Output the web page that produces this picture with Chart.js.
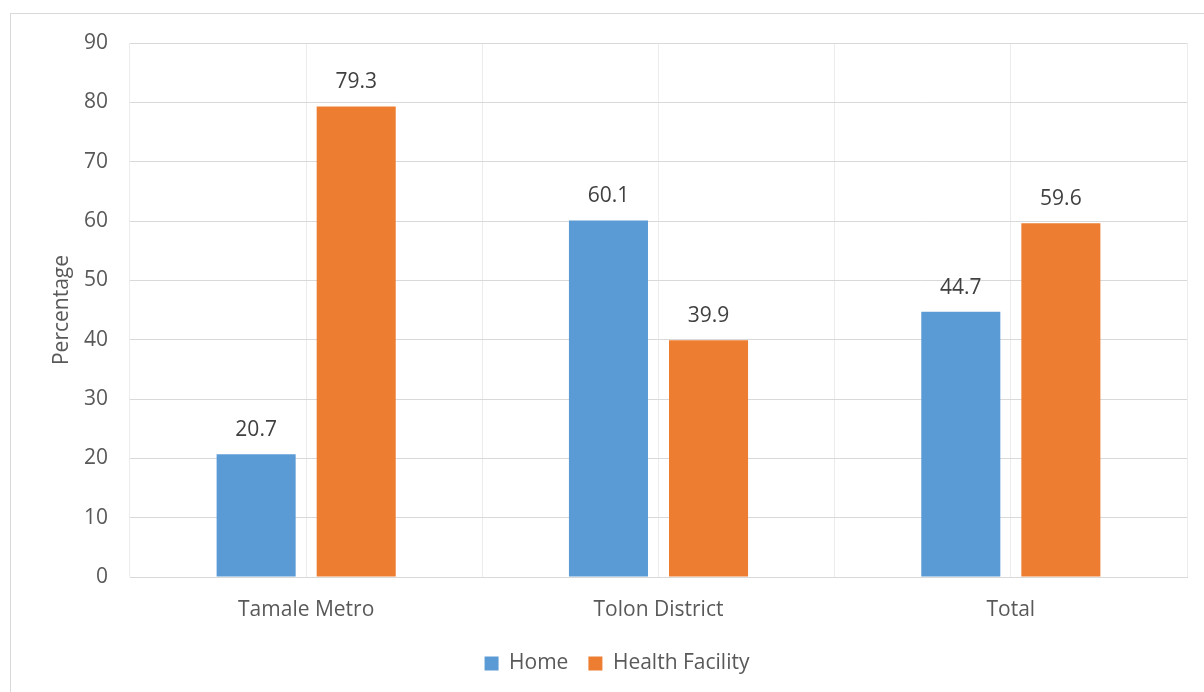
<!DOCTYPE html>
<html>
<head>
<meta charset="utf-8">
<script src="https://cdn.jsdelivr.net/npm/chart.js@4/dist/chart.umd.min.js"></script>
<style>
  html, body { margin: 0; padding: 0; background: #fff; }
  #wrap { width: 1204px; height: 692px; position: relative; }
</style>
</head>
<body>
<div id="wrap"><canvas id="placeChart"></canvas></div>
<script>
const categories = ['Tamale Metro', 'Tolon District', 'Total'];
const homeValues = [20.7, 60.1, 44.7];
const facilityValues = [79.3, 39.9, 59.6];
const yTicks = { min: 0, max: 90, step: 10 };

const FONT = '"Open Sans", sans-serif';

// frame line around the whole chart (runs off the right and bottom edges)
const frame = {
  id: 'frame',
  beforeDraw(chart) {
    const c = chart.ctx;
    c.save();
    c.strokeStyle = '#d9d9d9';
    c.lineWidth = 1;
    c.strokeRect(10.5, 13.5, 1400, 900);
    c.restore();
  }
};

// value printed above each bar
const barValues = {
  id: 'barValues',
  afterDatasetsDraw(chart) {
    const c = chart.ctx;
    c.save();
    c.font = '21px ' + FONT;
    c.fillStyle = '#404040';
    c.textAlign = 'center';
    c.textBaseline = 'alphabetic';
    chart.data.datasets.forEach((ds, i) => {
      chart.getDatasetMeta(i).data.forEach((bar, j) => {
        c.fillText(ds.data[j].toFixed(1), bar.x, bar.y - 18);
      });
    });
    c.restore();
  }
};

new Chart(document.getElementById('placeChart'), {
  type: 'bar',
  data: {
    labels: categories,
    datasets: [
      { label: 'Home', data: homeValues, backgroundColor: '#5b9bd5' },
      { label: 'Health Facility', data: facilityValues, backgroundColor: '#ed7d31' }
    ]
  },
  options: {
    responsive: true,
    maintainAspectRatio: false,
    animation: false,
    categoryPercentage: 0.568,
    barPercentage: 0.79,
    layout: { padding: { top: 43, right: 17, left: 47, bottom: 8 } },
    plugins: {
      tooltip: { enabled: false },
      legend: {
        position: 'bottom',
        labels: {
          boxWidth: 14,
          boxHeight: 14,
          padding: 20,
          color: '#595959',
          font: { family: FONT, size: 21 }
        }
      }
    },
    scales: {
      x: {
        grid: { color: '#ececec', drawTicks: false },
        border: { color: '#d9d9d9' },
        ticks: { color: '#595959', padding: 20, font: { family: FONT, size: 21 } },
        afterFit: s => { s.height = 56; }
      },
      // second axis only to draw the grid line through the middle of each group
      x2: {
        type: 'category',
        labels: categories,
        offset: true,
        position: 'bottom',
        grid: { color: '#ececec', offset: false, drawTicks: false },
        border: { display: false },
        ticks: { display: false },
        afterFit: s => { s.height = 0; }
      },
      y: {
        min: yTicks.min,
        max: yTicks.max,
        grid: { color: '#d9d9d9', drawTicks: false },
        border: { display: false },
        ticks: { stepSize: yTicks.step, color: '#595959', padding: 22, font: { family: FONT, size: 21 } },
        title: {
          display: true,
          text: 'Percentage',
          color: '#595959',
          font: { family: FONT, size: 21 },
          padding: { top: 2, bottom: 0 }
        },
        afterFit: s => { s.width = 83; }
      }
    }
  },
  plugins: [frame, barValues]
});
</script>
</body>
</html>
